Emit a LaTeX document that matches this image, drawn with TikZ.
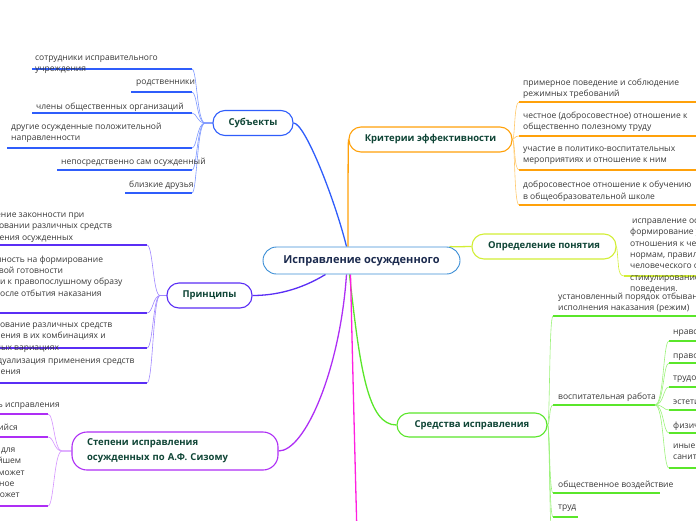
\documentclass[tikz,border=0pt]{standalone}
\usepackage{fontspec}
\setmainfont{Open Sans}
\usetikzlibrary{backgrounds}
\definecolor{cRoot}{HTML}{3D8FD6}
\definecolor{cRootTxt}{HTML}{1B2A4E}
\definecolor{cTitle}{HTML}{0F4536}
\definecolor{cLeaf}{HTML}{383838}
\definecolor{cSub}{HTML}{2F5DFB}
\definecolor{cSubL}{HTML}{7C97FF}
\definecolor{cKrit}{HTML}{FFA10A}
\definecolor{cKritL}{HTML}{FFC86A}
\definecolor{cDef}{HTML}{D2EE35}
\definecolor{cPrin}{HTML}{5A2EF5}
\definecolor{cPrinL}{HTML}{9F86FF}
\definecolor{cSt}{HTML}{AE2EF5}
\definecolor{cStL}{HTML}{D493FF}
\definecolor{cSr}{HTML}{5AE62A}
\definecolor{cSrL}{HTML}{9BF27A}
\definecolor{cMag}{HTML}{FF1FE0}
\begin{document}
\begin{tikzpicture}[x=1pt,y=-1pt,
  every node/.style={inner sep=0pt},
  branch/.style={draw, line width=1.1pt, fill=white, rounded corners=12pt, minimum height=25pt, font=\fontsize{9.5}{12}\selectfont\bfseries, text=cTitle},
  leaf/.style={font=\fontsize{8.5}{11.4}\selectfont, text=cLeaf, align=left},
  uline/.style={line width=1.6pt},
  conn/.style={line width=0.6pt},
  mainedge/.style={line width=1.3pt}]
\useasboundingbox (0,0) rectangle (696,520);
\clip (0,0) rectangle (696,520);

% root and branches
\node[draw=cRoot, line width=0.9pt, fill=white, rounded corners=13.5pt, minimum width=197pt, minimum height=27pt, font=\fontsize{11}{13}\selectfont\bfseries, text=cRootTxt] (root) at (361.5,260.5) {Исправление осужденного};
\node[branch, draw=cSub, minimum width=80pt] (sub) at (253,123) {Субъекты};
\node[branch, draw=cKrit, minimum width=163pt] (krit) at (430.5,139.5) {Критерии эффективности};
\node[branch, draw=cDef, minimum width=144pt] (def) at (544,246.5) {Определение понятия};
\node[branch, draw=cPrin, minimum width=85pt] (prin) at (209.5,295.5) {Принципы};
\node[branch, draw=cSt, minimum width=206pt, minimum height=38pt, rounded corners=15pt, align=left, text width=176pt, font=\fontsize{9.5}{15}\selectfont\bfseries] (stp) at (175,451) {Степени исправления\\осужденных по А.Ф. Сизому};
\node[branch, draw=cSr, minimum width=150pt, minimum height=24pt] (sred) at (472,425) {Средства исправления};
\coordinate (magend) at (357,535);

% Субъекты leaves
\node[leaf,anchor=north west] (s1) at (35,55.5) {сотрудники исправительного\\учреждения};
\node[leaf,anchor=west] (s2) at (136,83) {родственники};
\node[leaf,anchor=west] (s3) at (36,107) {члены общественных организаций};
\node[leaf,anchor=north west] (s4) at (11,122.5) {другие осужденные положительной\\направленности};
\node[leaf,anchor=west] (s5) at (61,162) {непосредственно сам осужденный};
\node[leaf,anchor=west] (s6) at (129,185) {близкие друзья};

% Критерии leaves
\node[leaf,anchor=north west] (k1) at (523,78.5) {примерное поведение и соблюдение\\режимных требований};
\node[leaf,anchor=north west] (k2) at (523,111.5) {честное (добросовестное) отношение к\\общественно полезному труду};
\node[leaf,anchor=north west] (k3) at (523,146.5) {участие в политико-воспитательных\\мероприятиях и отношение к ним};
\node[leaf,anchor=north west] (k4) at (523,181) {добросовестное отношение к обучению\\в общеобразовательной школе};

% Определение leaf
\node[leaf,anchor=north west] (d1) at (630,218.5) {\hspace{2pt}исправление осужденных -- это\\формирование у них уважительного\\отношения к человеку, обществу, труду,\\нормам, правилам и традициям\\человеческого общежития и\\стимулирование правопослушного\\поведения.};

% Средства leaves
\node[leaf,anchor=north west] (r1) at (558,292.5) {установленный порядок отбывания и\\исполнения наказания (режим)};
\node[leaf,anchor=west] (r2) at (558,397) {воспитательная работа};
\node[leaf,anchor=west] (r3) at (558,485) {общественное воздействие};
\node[leaf,anchor=west] (r4) at (558,508) {труд};
\node[leaf,anchor=west] (v1) at (673,333) {нравственное воспитание};
\node[leaf,anchor=west] (v2) at (673,357) {правовое воспитание};
\node[leaf,anchor=west] (v3) at (673,379) {трудовое воспитание};
\node[leaf,anchor=west] (v4) at (673,402) {эстетическое воспитание};
\node[leaf,anchor=west] (v5) at (673,426) {физическое воспитание};
\node[leaf,anchor=north west] (v6) at (673,443.5) {иные направления\\санитарно-гигиеническое};

% Принципы leaves
\node[leaf,anchor=north west] (p1) at (-35,210.5) {соблюдение законности при\\использовании различных средств\\исправления осужденных};
\node[leaf,anchor=north west] (p2) at (-34,255.5) {нацеленность на формирование\\и правовой готовности\\личности к правопослушному образу\\жизни после отбытия наказания};
\node[leaf,anchor=north west] (p3) at (-34,322.5) {использование различных средств\\исправления в их комбинациях и\\различных вариациях};
\node[leaf,anchor=north west] (p4) at (-34,358.5) {индивидуализация применения средств\\исправления};

% Степени leaves
\node[leaf,anchor=east] (t1) at (60,405) {вставший на путь исправления};
\node[leaf,anchor=east] (t2) at (18,428) {исправившийся};
\node[leaf,anchor=north west] (t3) at (-56,447.5) {исправления для\\что в дальнейшем\\осужденный может\\противоправное\\поведения, может};

\begin{scope}[on background layer]
  % main edges
  \draw[mainedge,cSub] ([xshift=-15pt]root.north) .. controls (335,200) and (305,123) .. (sub.east);
  \draw[mainedge,cKrit] ([xshift=-13.5pt]root.north) .. controls (348,200) and (348,160) .. (krit.west);
  \draw[mainedge,cDef] ([xshift=88pt]root.north) .. controls (458,247) and (464,246.5) .. (def.west);
  \draw[mainedge,cPrin] ([xshift=-36pt]root.south) .. controls (300,290) and (275,295.5) .. (prin.east);
  \draw[mainedge,cSt] ([xshift=-15pt]root.south) .. controls (340,370) and (305,451) .. (stp.east);
  \draw[mainedge,cSr] ([xshift=-12pt]root.south) .. controls (360,370) and (368,425) .. (sred.west);
  \draw[mainedge,cMag] ([xshift=-11pt]root.south) .. controls (353,380) and (355,460) .. (magend);

  % Субъекты
  \foreach \n/\y/\xl in {1/69/32, 2/92/131, 3/113/32, 4/148/7, 5/170/57, 6/193/125} {
    \coordinate (su\n) at (192,\y);
    \draw[uline,cSub] (\xl,\y) -- (su\n);
    \draw[conn,cSubL] (sub.west) -- (205,123) .. controls (197,123) and (197,\y) .. (su\n);
  }
  % Критерии
  \foreach \n/\y in {1/102, 2/136, 3/170, 4/205} {
    \coordinate (ku\n) at (519,\y);
    \draw[uline,cKrit] (ku\n) -- (700,\y);
    \draw[conn,cKritL] (krit.east) .. controls (515,139.5) and (514,\y) .. (ku\n);
  }
  % Определение
  \coordinate (du) at (624,276);
  \draw[uline,cDef] (du) -- (700,276);
  \draw[conn,cDef] (def.east) .. controls (619,262) and (617,276) .. (du);
  % Принципы
  \foreach \n/\y in {1/245, 2/313, 3/348, 4/383} {
    \coordinate (pu\n) at (147,\y);
    \draw[uline,cPrin] (-5,\y) -- (pu\n);
    \draw[conn,cPrinL] (prin.west) -- (160,295.5) .. controls (153,295.5) and (153,\y) .. (pu\n);
  }
  % Степени
  \foreach \n/\y in {1/414, 2/437, 3/506} {
    \coordinate (tu\n) at (48,\y);
    \draw[uline,cSt] (-5,\y) -- (tu\n);
    \draw[conn,cStL] (stp.west) -- (62,451) .. controls (54,451) and (54,\y) .. (tu\n);
  }
  % Средства
  \foreach \n/\y/\xr in {1/316/700, 2/405/655, 3/493/660, 4/517/578} {
    \coordinate (ru\n) at (553,\y);
    \draw[uline,cSr] (ru\n) -- (\xr,\y);
    \draw[conn,cSrL] (sred.east) .. controls (550,425) and (549,\y) .. (ru\n);
  }
  \coordinate (ru5) at (553,545);
  \draw[conn,cSrL] (sred.east) .. controls (550,425) and (549,545) .. (ru5);
  % воспитательная работа
  \coordinate (vw) at (655,405);
  \foreach \n/\y in {1/341, 2/363, 3/387, 4/410, 5/433, 6/468} {
    \coordinate (vu\n) at (669,\y);
    \draw[uline,cSr] (vu\n) -- (700,\y);
    \draw[conn,cSrL] (vw) .. controls (664,405) and (663,\y) .. (vu\n);
  }
\end{scope}
\end{tikzpicture}
\end{document}
